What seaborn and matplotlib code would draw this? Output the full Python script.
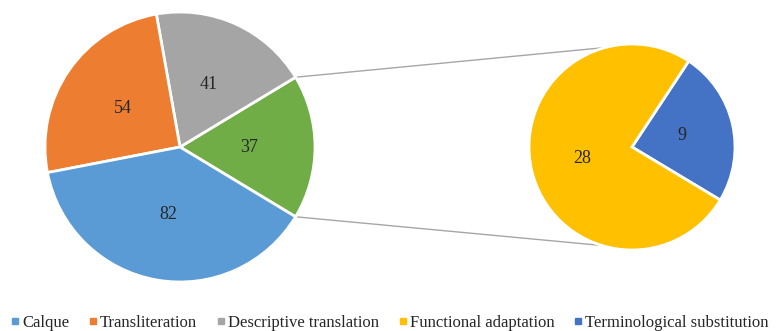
import matplotlib.pyplot as plt
from matplotlib.lines import Line2D
import seaborn as sns
import numpy as np

sns.set_style("white")
plt.rcParams['font.family'] = ['Liberation Serif', 'DejaVu Serif']

# data
main_labels = ["Calque", "Transliteration", "Descriptive translation"]
main_values = [82, 54, 41]
sub_labels = ["Functional adaptation", "Terminological substitution"]
sub_values = [28, 9]

main_colors = ["#5B9BD5", "#ED7D31", "#A5A5A5"]
other_color = "#70AD47"
sub_colors = ["#FFC000", "#4472C4"]

other = sum(sub_values)
# draw order counter-clockwise starting with the "other" slice on the right
left_vals = [other] + main_values[::-1]
left_cols = [other_color] + main_colors[::-1]
total_left = sum(left_vals)
start_left = -other / total_left * 180

right_vals = sub_values[::-1]
right_cols = sub_colors[::-1]
total_right = sum(right_vals)

fig = plt.figure(figsize=(7.78, 3.31), dpi=100)
ax = fig.add_axes([0, 0, 1, 1])

c1, r1 = (180, 184), 135
c2, r2 = (632, 184), 103

wedges, texts, autotexts = ax.pie(
    left_vals, colors=left_cols, startangle=start_left, center=c1, radius=r1,
    autopct=lambda p: f"{round(p * total_left / 100)}", pctdistance=0.51,
    wedgeprops=dict(edgecolor='white', linewidth=2), frame=True)
for t in autotexts:
    t.set_fontsize(13)

w2, t2, a2 = ax.pie(
    right_vals, colors=right_cols, startangle=-31, center=c2, radius=r2,
    autopct=lambda p: f"{round(p * total_right / 100)}", pctdistance=0.5,
    wedgeprops=dict(edgecolor='white', linewidth=2), frame=True)
for t in a2:
    t.set_fontsize(13)
ax.set_xlim(0, 778)
ax.set_ylim(0, 331)
ax.set_aspect('equal')
ax.axis('off')

# connector lines
th1 = np.deg2rad(wedges[0].theta2)
th0 = np.deg2rad(wedges[0].theta1)
for a_left, a_right in [(th1, np.deg2rad(105)), (th0, np.deg2rad(-107))]:
    x0 = c1[0] + r1 * np.cos(a_left)
    y0 = c1[1] + r1 * np.sin(a_left)
    x1 = c2[0] + r2 * np.cos(a_right)
    y1 = c2[1] + r2 * np.sin(a_right)
    ax.plot([x0, x1], [y0, y1], color='#A6A6A6', linewidth=1, zorder=0)

handles = [Line2D([], [], marker='s', linestyle='', color=c, markersize=4)
           for c in main_colors + sub_colors]
fig.legend(handles, main_labels + sub_labels, loc='lower center', ncol=5,
           bbox_to_anchor=(0.5, -0.045), frameon=False, fontsize=12,
           handletextpad=0.05, columnspacing=1.1, handlelength=0.7)

fig.savefig('out.png', dpi=100)
